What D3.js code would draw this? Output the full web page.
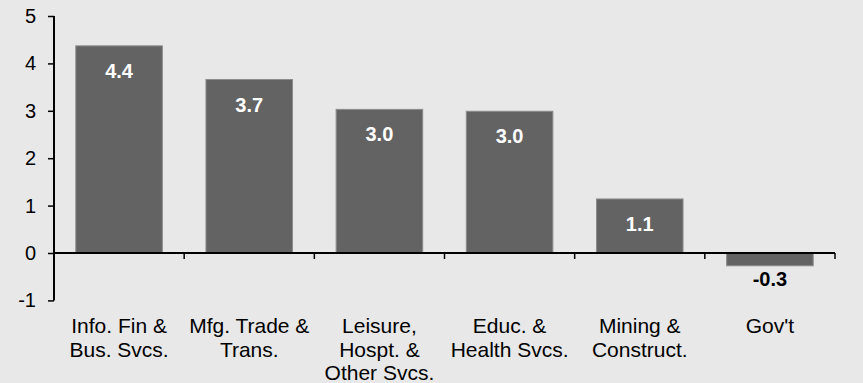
<!DOCTYPE html>
<html>
<head>
<meta charset="utf-8">
<script src="https://cdn.jsdelivr.net/npm/d3@7"></script>
<style>
  html, body { margin: 0; padding: 0; background: #e8e8e8; }
  svg { display: block; }
</style>
</head>
<body>
<script>
const categories = [
  ["Info. Fin &", "Bus. Svcs."],
  ["Mfg. Trade &", "Trans."],
  ["Leisure,", "Hospt. &", "Other Svcs."],
  ["Educ. &", "Health Svcs."],
  ["Mining &", "Construct."],
  ["Gov't"]
];
const values = [4.37, 3.66, 3.03, 2.99, 1.14, -0.27];
const valueLabels = ["4.4", "3.7", "3.0", "3.0", "1.1", "-0.3"];
const yTicks = [-1, 0, 1, 2, 3, 4, 5];

const W = 863, H = 383;
const margin = { left: 54, right: 28, top: 16, bottom: 83 };
const font = "'Liberation Sans', Arial, Helvetica, sans-serif";

const svg = d3.select("body").append("svg")
  .attr("width", W).attr("height", H)
  .style("background", "#e8e8e8");

const x = d3.scaleBand()
  .domain(d3.range(categories.length))
  .range([margin.left, W - margin.right])
  .paddingInner(0.335).paddingOuter(0.1675);

const y = d3.scaleLinear()
  .domain([-1, 5])
  .range([300.4, 16]);

// bars
svg.append("g").selectAll("rect")
  .data(values)
  .join("rect")
  .attr("x", (d, i) => x(i))
  .attr("width", x.bandwidth())
  .attr("y", d => y(Math.max(0, d)))
  .attr("height", d => Math.abs(y(d) - y(0)))
  .attr("fill", "#636363")
  .attr("stroke", "#8c8c8c")
  .attr("stroke-width", 1);

// value labels
svg.append("g").selectAll("text")
  .data(values)
  .join("text")
  .attr("x", (d, i) => x(i) + x.bandwidth() / 2)
  .attr("y", d => d >= 0 ? y(d) + 32 : y(d) + 20)
  .attr("text-anchor", "middle")
  .attr("font-family", font)
  .attr("font-weight", "bold")
  .attr("font-size", "20px")
  .attr("fill", d => d >= 0 ? "#ffffff" : "#000000")
  .text((d, i) => valueLabels[i]);

// y axis
const yAxis = d3.axisLeft(y).tickValues(yTicks).tickSize(6).tickPadding(12).tickFormat(d => String(d));
const gy = svg.append("g")
  .attr("transform", `translate(${margin.left},0)`)
  .call(yAxis);
gy.select(".domain").remove();
gy.selectAll(".tick line").attr("stroke", "#000").attr("stroke-width", 1.5);
gy.selectAll(".tick text")
  .attr("font-family", font).attr("font-size", "20px").attr("fill", "#000");
svg.append("line")
  .attr("x1", margin.left).attr("x2", margin.left)
  .attr("y1", y(5)).attr("y2", y(-1))
  .attr("stroke", "#000").attr("stroke-width", 2);

// x axis at zero
const x0 = margin.left, x1 = W - margin.right;
svg.append("line")
  .attr("x1", x0).attr("x2", x1)
  .attr("y1", y(0)).attr("y2", y(0))
  .attr("stroke", "#000").attr("stroke-width", 2);
const boundaries = d3.range(categories.length + 1).map(i => x0 + i * (x1 - x0) / categories.length);
svg.append("g").selectAll("line")
  .data(boundaries.slice(1))
  .join("line")
  .attr("x1", d => d).attr("x2", d => d)
  .attr("y1", y(0)).attr("y2", y(0) + 6)
  .attr("stroke", "#000").attr("stroke-width", 1.5);

// category labels
const catG = svg.append("g");
categories.forEach((lines, i) => {
  const t = catG.append("text")
    .attr("text-anchor", "middle")
    .attr("font-family", font)
    .attr("font-size", "21px")
    .attr("fill", "#000");
  lines.forEach((ln, j) => {
    t.append("tspan")
      .attr("x", x(i) + x.bandwidth() / 2)
      .attr("y", 333 + j * 23.5)
      .text(ln);
  });
});
</script>
</body>
</html>
